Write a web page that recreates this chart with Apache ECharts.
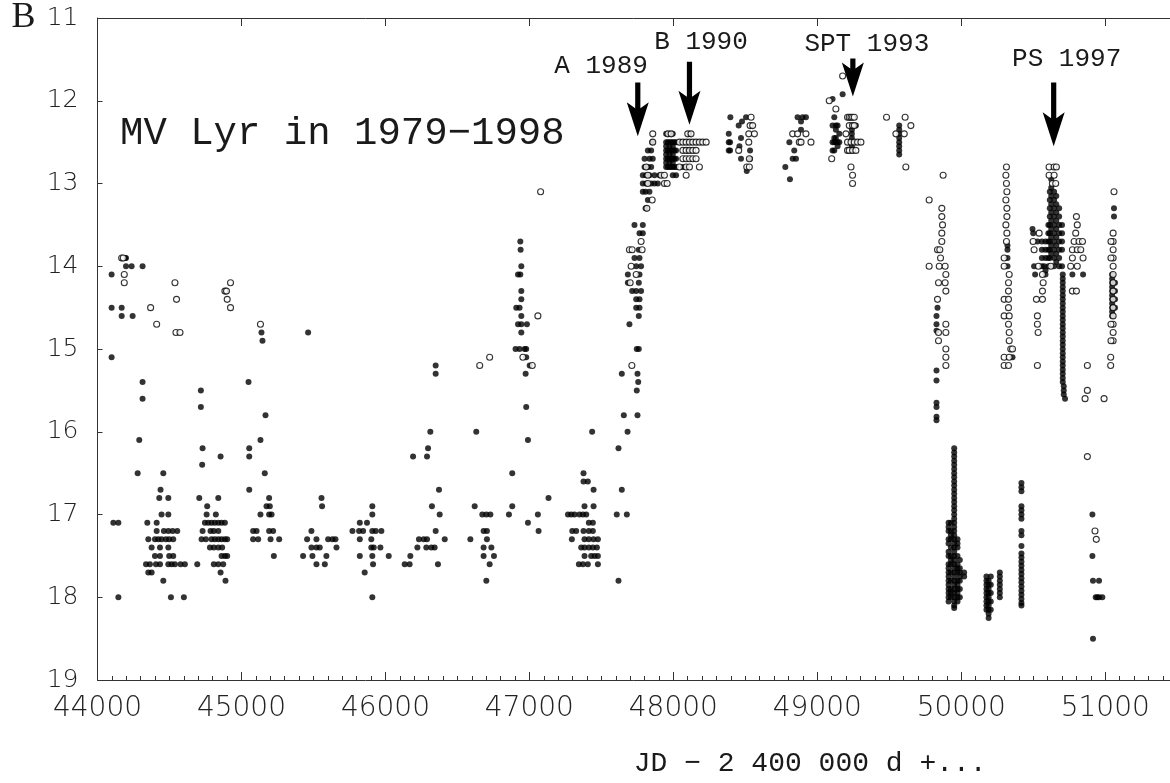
<!DOCTYPE html>
<html>
<head>
<meta charset="utf-8">
<script src="https://cdn.jsdelivr.net/npm/echarts@6/dist/echarts.min.js"></script>
<style>
  html, body { margin: 0; padding: 0; background: #fff; }
  #chart { width: 1170px; height: 783px; }
</style>
</head>
<body>
<div id="chart"></div>
<script>
// JD - 2400000 vs B magnitude
const col = (jd, mags) => mags.map(m => [jd, m])

const filled1979to1986 = [
  [44191, 13.9], [44198, 13.9], [44198, 14.0], [44237, 14.0], [44313, 14.0], [44098, 14.1],
  [44098, 14.5], [44168, 14.5], [44168, 14.6], [44244, 14.6], [44098, 15.1], [44313, 15.4], [44313, 15.6],
  [44290, 16.1], [44279, 16.5], [44457, 16.5], [44438, 16.7], [44429, 16.8], [44492, 16.8], [44445, 17.0], [44492, 17.0],
  [44110, 17.1], [44145, 17.1], [44346, 17.1], [44411, 17.1],
  [44411, 17.2], [44461, 17.2], [44492, 17.2], [44522, 17.2], [44554, 17.2],
  [44353, 17.3], [44399, 17.3], [44422, 17.3], [44445, 17.3], [44475, 17.3], [44498, 17.3], [44526, 17.3],
  [44376, 17.4], [44434, 17.4], [44492, 17.4],
  [44399, 17.5], [44434, 17.5], [44498, 17.5], [44526, 17.5],
  [44337, 17.6], [44364, 17.6], [44406, 17.6], [44434, 17.6], [44492, 17.6], [44515, 17.6], [44538, 17.6], [44577, 17.6], [44607, 17.6],
  [44353, 17.7], [44376, 17.7], [44457, 17.8], [44145, 18.0], [44510, 18.0], [44600, 18.0],
  [44718, 15.5], [44718, 15.7], [44730, 16.2], [44855, 16.3], [44727, 16.4], [44707, 16.8], [44839, 16.8], [44762, 16.9],
  [44758, 17.0], [44822, 17.0],
  [44746, 17.1], [44769, 17.1], [44792, 17.1], [44815, 17.1], [44839, 17.1], [44862, 17.1], [44885, 17.1],
  [44730, 17.2], [44785, 17.2], [44808, 17.2], [44839, 17.2],
  [44723, 17.3], [44753, 17.3], [44792, 17.3], [44815, 17.3], [44839, 17.3], [44862, 17.3], [44885, 17.3], [44901, 17.3],
  [44781, 17.4], [44808, 17.4], [44839, 17.4], [44866, 17.4],
  [44862, 17.5], [44885, 17.5], [44901, 17.5],
  [44693, 17.6], [44808, 17.6], [44839, 17.6], [44873, 17.6], [44855, 17.7], [44889, 17.8],
  [45139, 14.8], [45146, 14.9], [45049, 15.4], [45167, 15.8], [45132, 16.1], [45054, 16.2], [45054, 16.3], [45162, 16.5],
  [45054, 16.7], [45192, 16.8], [45174, 16.9], [45197, 16.9], [45132, 17.0], [45192, 17.0], [45209, 17.0],
  [45081, 17.2], [45105, 17.2], [45192, 17.2], [45220, 17.2],
  [45081, 17.3], [45116, 17.3], [45202, 17.3], [45262, 17.3], [45225, 17.5],
  [45463, 14.8], [45556, 16.8], [45560, 16.9], [45486, 17.2],
  [45456, 17.3], [45521, 17.3], [45602, 17.3], [45632, 17.3], [45653, 17.3],
  [45486, 17.4], [45521, 17.4], [45544, 17.4], [45660, 17.4],
  [45428, 17.5], [45493, 17.5], [45590, 17.5], [45521, 17.6], [45579, 17.6],
  [45909, 16.9], [45909, 17.0], [45822, 17.1], [45872, 17.1],
  [45771, 17.2], [45817, 17.2], [45845, 17.2], [45909, 17.2], [45933, 17.2], [45972, 17.2],
  [45822, 17.3], [45902, 17.3], [45902, 17.4], [45919, 17.4], [45965, 17.4],
  [45822, 17.5], [45909, 17.5], [46023, 17.5], [45914, 17.6], [45856, 17.7], [45909, 18.0],
  [46349, 15.2], [46349, 15.3], [46312, 16.0], [46296, 16.2], [46192, 16.3], [46289, 16.3], [46372, 16.7], [46323, 16.9],
  [46377, 17.0], [46349, 17.2], [46233, 17.3], [46266, 17.3], [46289, 17.3], [46412, 17.3],
  [46222, 17.4], [46284, 17.4], [46319, 17.4], [46342, 17.4], [46173, 17.5],
  [46134, 17.6], [46168, 17.6], [46365, 17.6]
]

const filled1986to1989 = [
  [46937, 13.7], [46939, 13.8], [46944, 14.0], [46921, 14.1], [46937, 14.1], [46944, 14.3], [46944, 14.4],
  [46909, 14.5], [46932, 14.5], [46944, 14.6], [46921, 14.7], [46944, 14.7], [46983, 14.7], [46944, 14.8],
  [46904, 15.0], [46932, 15.0], [46967, 15.0], [46978, 15.0], [46978, 15.1], [47002, 15.2], [46974, 15.3], [46978, 15.7],
  [46631, 16.0], [46990, 16.1], [46881, 16.5], [47133, 16.8], [46620, 16.9], [46881, 16.9],
  [46673, 17.0], [46701, 17.0], [46729, 17.0], [46858, 17.0], [47059, 17.0], [46990, 17.1],
  [46682, 17.2], [46705, 17.2], [47064, 17.2], [46590, 17.3], [46705, 17.3],
  [46682, 17.4], [46736, 17.4], [46682, 17.5], [46754, 17.5], [46724, 17.6], [46701, 17.8],
  [47436, 16.0], [47376, 16.5], [47376, 16.6], [47406, 16.6], [47446, 16.7], [47383, 16.9], [47446, 16.9],
  [47268, 17.0], [47291, 17.0], [47314, 17.0], [47348, 17.0], [47372, 17.0], [47395, 17.0], [47413, 17.1], [47441, 17.1],
  [47298, 17.2], [47325, 17.2], [47376, 17.2], [47413, 17.2], [47441, 17.2],
  [47295, 17.3], [47383, 17.3], [47413, 17.3], [47446, 17.3], [47476, 17.3],
  [47360, 17.4], [47383, 17.4], [47413, 17.4], [47441, 17.4], [47469, 17.4],
  [47383, 17.5], [47429, 17.5], [47453, 17.5], [47476, 17.5],
  [47344, 17.6], [47372, 17.6], [47406, 17.6], [47476, 17.6],
  [47619, 16.2], [47642, 16.7], [47607, 17.0], [47677, 17.0], [47619, 17.8],
  [47656, 15.8], [47751, 15.8], [47682, 16.0], [47642, 15.3], [47751, 15.3], [47756, 15.4], [47746, 15.5],
  [47746, 15.0], [47760, 15.0], [47695, 14.7], [47760, 14.6], [47742, 14.5], [47765, 14.5], [47742, 14.4], [47765, 14.4],
  [47714, 14.3], [47742, 14.3], [47776, 14.3], [47684, 14.2], [47760, 14.2], [47684, 14.1], [47765, 14.1],
  [47742, 14.0], [47776, 14.0], [47730, 13.9], [47765, 13.9], [47760, 13.8], [47765, 13.6], [47788, 13.6],
  [47730, 13.5], [47788, 13.5], [47807, 13.3], [47823, 13.2], [47788, 13.1], [47807, 13.1], [47834, 13.1],
  [47788, 13.0], [47811, 13.0], [47846, 13.0], [47869, 13.0], [47892, 13.0],
  [47788, 12.9], [47811, 12.9], [47834, 12.9], [47869, 12.9], [47904, 12.9],
  [47800, 12.8], [47823, 12.8], [47846, 12.8], [47800, 12.7], [47834, 12.7], [47857, 12.7],
  [47823, 12.6], [47846, 12.6], [47853, 12.5]
]

const filled1990to1994 = [
  ...col(47950, [12.4, 12.5, 12.55, 12.6, 12.65, 12.7, 12.75, 12.8]),
  ...col(47962, [12.5, 12.6, 12.7, 12.8]),
  ...col(47973, [12.4, 12.5, 12.55, 12.6, 12.65, 12.7, 12.75, 12.8]),
  ...col(47985, [12.5, 12.6, 12.7, 12.8]),
  ...col(47996, [12.4, 12.5, 12.55, 12.6, 12.65, 12.7, 12.75, 12.8, 12.9]),
  ...col(48008, [12.5, 12.6, 12.7, 12.8]),
  ...col(48019, [12.5, 12.6, 12.7, 12.8, 12.9]),
  [48112, 12.4], [48100, 12.5], [48100, 12.6], [48066, 12.8],
  [48396, 12.2], [48505, 12.2], [48477, 12.25], [48454, 12.3], [48385, 12.4], [48385, 12.5], [48394, 12.5],
  [48470, 12.45], [48459, 12.55], [48385, 12.6], [48394, 12.6], [48533, 12.6], [48470, 12.7], [48533, 12.7], [48510, 12.85],
  [48863, 12.2], [48898, 12.2], [48921, 12.2], [48887, 12.25], [48887, 12.35], [48806, 12.5], [48840, 12.6],
  [48852, 12.7], [48829, 12.7], [48778, 12.8], [48810, 12.95],
  [49106, 11.98], [49176, 11.92], [49118, 12.2], [49106, 12.3], [49129, 12.3], [49141, 12.3], [49268, 12.3],
  [49129, 12.35], [49153, 12.4], [49129, 12.45], [49118, 12.45], [49106, 12.5], [49118, 12.5], [49129, 12.5],
  [49141, 12.5], [49153, 12.5], [49141, 12.55], [49106, 12.6], [49118, 12.6],
  ...col(49240, [12.3, 12.35, 12.4, 12.45, 12.5, 12.55, 12.6]),
  ...col(49569, [12.3, 12.35, 12.4, 12.45, 12.5, 12.55, 12.6, 12.65])
]

const filled1994to1996 = [
  [49835, 14.5], [49828, 14.6], [49828, 14.7], [49828, 14.78], [49828, 15.26], [49828, 15.38],
  [49828, 15.65], [49828, 15.7], [49828, 15.82], [49828, 15.86],
  ...col(49951, [16.2, 16.25, 16.3, 16.35, 16.4, 16.45, 16.5, 16.55, 16.6, 16.65, 16.7, 16.75, 16.8, 16.85, 16.9, 16.95,
    17.0, 17.05, 17.1, 17.15, 17.2, 17.25, 17.3, 17.35, 17.4, 17.45, 17.5, 17.55, 17.6, 17.65, 17.7, 17.75,
    17.8, 17.85, 17.9, 17.95, 18.0, 18.05, 18.1, 18.13]),
  ...col(49912, [17.1, 17.15, 17.2, 17.3, 17.35, 17.45, 17.5, 17.6, 17.65, 17.7, 17.75, 17.8, 17.85, 17.9, 17.95, 18.0, 18.05]),
  ...col(49928, [17.1, 17.2, 17.25, 17.3, 17.4, 17.5, 17.55, 17.6, 17.7, 17.8, 17.9, 17.95, 18.0]),
  ...col(49974, [17.3, 17.35, 17.4, 17.5, 17.6, 17.65, 17.7, 17.8, 17.85, 17.9, 17.95, 18.0, 18.05]),
  ...col(49990, [17.55, 17.65, 17.7, 17.75, 17.8, 17.9, 18.0]),
  ...col(50020, [17.7, 17.75]),
  ...col(50175, [17.75, 17.8, 17.85, 17.9, 17.95, 18.0, 18.05, 18.1, 18.15]),
  ...col(50190, [17.8, 17.85, 17.9, 17.95, 18.0, 18.05, 18.1, 18.15, 18.2, 18.25]),
  ...col(50205, [17.75, 17.85, 17.95, 18.05, 18.15]),
  ...col(50268, [17.7, 17.75, 17.8, 17.85, 17.9, 17.95, 18.0]),
  ...col(50418, [16.62, 16.67, 16.72, 16.9, 16.95, 17.0, 17.05, 17.2, 17.25, 17.38, 17.47, 17.52, 17.57, 17.62,
    17.67, 17.72, 17.77, 17.82, 17.87, 17.92, 17.97, 18.02, 18.07, 18.1])
]

const filled1996to1998 = [
  [50321, 13.75], [50321, 13.8], [50321, 13.9], [50321, 14.0], [50356, 15.1],
  [50495, 13.55], [50500, 13.6], [50529, 13.7], [50506, 14.0], [50576, 14.0], [50513, 14.1],
  ...col(50585, [13.7, 13.8, 13.9, 14.05, 14.1]),
  ...col(50560, [13.7, 13.8, 13.9, 14.0]),
  ...col(50605, [13.5, 13.6, 13.7, 13.8, 13.9, 14.0]),
  ...col(50615, [13.1, 13.2, 13.3, 13.4, 13.5, 13.6, 13.7, 13.8, 13.9]),
  ...col(50625, [12.95, 13.05, 13.15, 13.25, 13.35, 13.45, 13.55, 13.65, 13.75, 13.85]),
  ...col(50645, [13.1, 13.2, 13.3, 13.4, 13.5, 13.6, 13.7, 13.8, 13.9, 14.0]),
  ...col(50660, [13.15, 13.25, 13.35, 13.45, 13.55, 13.65, 13.75, 13.85, 13.95]),
  ...col(50680, [13.3, 13.4, 13.5, 13.6, 13.7, 13.8, 13.9, 14.0]),
  ...col(50700, [13.5, 13.6, 13.7, 13.8, 14.0]),
  ...col(50705, [14.1, 14.15, 14.2, 14.25, 14.3, 14.35, 14.4, 14.45, 14.5, 14.55, 14.6, 14.65, 14.7, 14.75,
    14.8, 14.85, 14.9, 14.95, 15.0, 15.05, 15.1, 15.15, 15.2, 15.25, 15.3, 15.35, 15.4]),
  [50712, 15.45], [50712, 15.5], [50712, 15.55], [50721, 15.6],
  [50772, 14.1], [50846, 14.1],
  [51061, 13.3], [51061, 13.4],
  ...col(51048, [14.1, 14.15, 14.2, 14.25, 14.3, 14.35, 14.4, 14.45, 14.5, 14.55, 14.6]),
  ...col(51068, [14.2, 14.3, 14.4, 14.5]),
  [50911, 17.0], [50911, 17.5], [50915, 17.8], [50957, 17.8],
  [50934, 18.0], [50945, 18.0], [50957, 18.0], [50980, 18.0], [50915, 18.5]
]

const open1979to1989 = [
  [44168, 13.9], [44179, 13.9], [44186, 14.1], [44186, 14.2], [44538, 14.2], [44924, 14.2], [44885, 14.3], [44896, 14.3],
  [44549, 14.4], [44901, 14.4], [44369, 14.5], [44924, 14.5], [44411, 14.7], [45132, 14.7], [44545, 14.8], [44573, 14.8],
  [47059, 14.6], [46955, 15.1], [47020, 15.2], [46724, 15.1], [46655, 15.2], [47078, 13.1],
  [47712, 15.2], [47700, 14.2], [47742, 14.1], [47707, 14.0], [47695, 13.8], [47714, 13.8], [47783, 13.8], [47776, 13.7],
  [47816, 13.3], [47853, 13.2], [47857, 12.4], [47857, 12.5], [47811, 12.8], [47823, 12.9], [47823, 13.0]
]

const open1990to1994 = [
  [47962, 12.4], [47985, 12.4], [48100, 12.4], [48123, 12.4],
  [48042, 12.5], [48066, 12.5], [48089, 12.5], [48112, 12.5], [48135, 12.5], [48158, 12.5], [48181, 12.5], [48204, 12.5], [48228, 12.5],
  [48066, 12.6], [48089, 12.6], [48112, 12.6], [48135, 12.6], [48158, 12.6],
  [48066, 12.7], [48089, 12.7], [48112, 12.7], [48135, 12.7], [48158, 12.7],
  [48042, 12.8], [48089, 12.8], [48112, 12.8], [48181, 12.8], [48089, 12.9],
  [47915, 12.9], [47938, 12.9], [47938, 13.0], [47957, 13.0],
  [48540, 12.2], [48533, 12.3], [48551, 12.3], [48524, 12.4], [48563, 12.4], [48524, 12.5], [48454, 12.6],
  [48528, 12.7], [48510, 12.8], [48528, 12.8],
  [48829, 12.4], [48863, 12.4], [48921, 12.4], [48875, 12.5], [48887, 12.5], [48956, 12.5],
  [49176, 11.7], [49083, 12.0], [49129, 12.1], [49210, 12.2], [49222, 12.2], [49234, 12.2], [49245, 12.2], [49257, 12.2],
  [49222, 12.3], [49245, 12.3], [49257, 12.3], [49199, 12.4], [49210, 12.5], [49234, 12.5], [49257, 12.5], [49280, 12.5],
  [49303, 12.5], [49210, 12.6], [49222, 12.6], [49245, 12.6], [49268, 12.6], [49100, 12.7], [49234, 12.8], [49245, 12.9], [49245, 13.0],
  [49481, 12.2], [49610, 12.2], [49650, 12.3], [49546, 12.4], [49604, 12.4], [49615, 12.8]
]

const open1994to1998 = [
  [49874, 12.9], [49777, 13.2], [49865, 13.3], [49865, 13.4], [49870, 13.5], [49865, 13.6], [49865, 13.7],
  [49835, 13.8], [49851, 13.8], [49856, 13.9], [49777, 14.0], [49847, 14.0], [49888, 14.0], [49893, 14.1],
  [49842, 14.2], [49888, 14.2], [49893, 14.3], [49835, 14.4], [49893, 14.7], [49842, 14.8], [49893, 14.8],
  [49842, 14.9], [49893, 15.0], [49893, 15.1], [49893, 15.2],
  [50314, 12.8], [50310, 12.9], [50314, 13.0], [50317, 13.1], [50310, 13.2], [50317, 13.3], [50317, 13.4], [50310, 13.5],
  [50317, 13.6], [50314, 13.7], [50298, 13.9], [50298, 14.0], [50333, 14.1], [50328, 14.2], [50328, 14.3],
  [50298, 14.4], [50328, 14.4], [50328, 14.5], [50298, 14.6], [50333, 14.6], [50328, 14.7], [50333, 14.8], [50333, 14.9],
  [50344, 15.0], [50356, 15.0], [50298, 15.1], [50333, 15.1], [50298, 15.2], [50328, 15.2],
  [50499, 13.7], [50506, 13.8], [50536, 14.0], [50622, 14.0], [50564, 14.1], [50569, 14.2], [50564, 14.3],
  [50522, 14.4], [50564, 14.4], [50529, 14.6], [50529, 14.7], [50534, 14.8], [50529, 15.2],
  [50610, 12.8], [50645, 12.8], [50661, 12.8], [50610, 12.9], [50645, 12.9], [50633, 13.0], [50656, 13.0], [50541, 13.6],
  [50800, 13.4], [50806, 13.5], [50795, 13.6], [50784, 13.7], [50818, 13.7], [50842, 13.7], [50772, 13.8], [50806, 13.8],
  [50830, 13.8], [50772, 13.9], [50846, 13.9], [50760, 14.0], [50806, 14.0], [50772, 14.3], [50800, 14.3],
  [50876, 15.2], [50876, 15.5], [50860, 15.6], [50992, 15.6], [50876, 16.3], [50929, 17.2], [50938, 17.3],
  [51061, 13.1], ...col(51055, [13.6, 13.7, 13.8, 13.9, 14.0, 14.1, 14.2, 14.3, 14.4, 14.5, 14.6, 14.7, 14.8, 14.9]),
  ...col(51040, [13.7, 13.9, 14.7, 14.9]), [51038, 15.1], [51038, 15.2]
]

// arrows: epoch name, JD, magnitude of arrow tail and tip, label anchor
const arrowNames = ['A 1989', 'B 1990', 'SPT 1993', 'PS 1997']
const arrowJd = [47753, 48112, 49247, 50642]
const arrowFrom = [11.78, 11.53, 11.49, 11.78]
const arrowTo = [12.43, 12.29, 11.95, 12.55]
const labelJd = [47498, 48192, 49344, 50732]
const labelMag = [11.58, 11.29, 11.32, 11.50]

const xTickInterval = 1000
const yTickInterval = 1

const monoFont = '"Liberation Mono", "DejaVu Sans Mono", monospace'
const sansFont = '"DejaVu Sans", sans-serif'

const arrowData = arrowNames.map((n, i) => [arrowJd[i], arrowFrom[i], arrowTo[i], labelJd[i], labelMag[i], n])

const option = {
  backgroundColor: '#fff',
  animation: false,
  title: {
    text: 'MV Lyr in 1979\u22121998',
    left: 120,
    top: 114,
    padding: 0,
    textStyle: { fontFamily: monoFont, fontSize: 39, fontWeight: 'normal', color: '#1a1a1a' }
  },
  grid: { left: 97.5, right: 0, top: 18, bottom: 100.5, containLabel: false },
  xAxis: [{
    type: 'value',
    min: 44000,
    max: 51450,
    interval: xTickInterval,
    name: 'JD \u2212 2 400 000 d +...',
    nameLocation: 'middle',
    nameGap: 84,
    nameTextStyle: { fontFamily: monoFont, fontSize: 28, color: '#1a1a1a', align: 'left', verticalAlign: 'middle' },
    axisLine: { onZero: false, lineStyle: { color: '#333', width: 1 } },
    axisTick: { inside: true, length: 8, lineStyle: { color: '#333' } },
    minorTick: { show: true, splitNumber: 10, length: 4, lineStyle: { color: '#333' } },
    axisLabel: {
      showMaxLabel: false, margin: 15, fontFamily: sansFont, fontWeight: 200, fontSize: 28, color: '#222',
      formatter: v => String(v)
    },
    splitLine: { show: false }
  }, {
    type: 'value',
    position: 'top',
    min: 44000,
    max: 51450,
    interval: xTickInterval,
    axisLine: { onZero: false, lineStyle: { color: '#333', width: 1 } },
    axisTick: { inside: true, length: 8, lineStyle: { color: '#333' } },
    axisLabel: { show: false },
    splitLine: { show: false }
  }],
  yAxis: {
    type: 'value',
    inverse: true,
    min: 11,
    max: 19,
    interval: yTickInterval,
    name: 'B',
    nameLocation: 'start',
    nameGap: 0,
    nameTextStyle: {
      fontFamily: '"Liberation Serif", "DejaVu Serif", serif', fontSize: 36, color: '#1a1a1a',
      align: 'right', verticalAlign: 'middle', padding: [4, 62, 0, 0]
    },
    axisLine: { show: true, lineStyle: { color: '#333', width: 1 } },
    axisTick: { inside: true, length: 5, lineStyle: { color: '#333' } },
    axisLabel: { margin: 19, fontFamily: sansFont, fontWeight: 200, fontSize: 25, color: '#222' },
    splitLine: { show: false }
  },
  series: [
    {
      name: 'filled',
      type: 'scatter',
      symbol: 'circle',
      symbolSize: 6,
      itemStyle: { color: '#000' },
      data: [...filled1979to1986, ...filled1986to1989, ...filled1990to1994, ...filled1994to1996, ...filled1996to1998],
      z: 2
    },
    {
      name: 'open',
      type: 'scatter',
      symbol: 'circle',
      symbolSize: 6,
      itemStyle: { color: '#fff', borderColor: '#000', borderWidth: 1.1 },
      data: [...open1979to1989, ...open1990to1994, ...open1994to1998],
      z: 3
    },
    {
      name: 'arrows',
      type: 'custom',
      data: arrowData,
      z: 4,
      renderItem: (params, api) => {
        const tail = api.coord([api.value(0), api.value(1)])
        const tip = api.coord([api.value(0), api.value(2)])
        const lab = api.coord([api.value(3), api.value(4)])
        const x = tail[0]
        const head = 34
        const hw = 11
        const sw = 2.6
        return {
          type: 'group',
          children: [{
            type: 'polygon',
            shape: {
              points: [
                [x - sw, tail[1]], [x + sw, tail[1]], [x + sw, tip[1] - head + 6],
                [x + hw, tip[1] - head], [x, tip[1]], [x - hw, tip[1] - head], [x - sw, tip[1] - head + 6]
              ]
            },
            style: { fill: '#000' }
          }, {
            type: 'text',
            x: lab[0],
            y: lab[1],
            style: {
              text: arrowNames[params.dataIndex],
              fontFamily: monoFont,
              fontSize: 26,
              fill: '#1a1a1a',
              align: 'center',
              verticalAlign: 'middle'
            }
          }]
        }
      }
    }
  ]
}

const chart = echarts.init(document.getElementById('chart'))
chart.setOption(option)
</script>
</body>
</html>
